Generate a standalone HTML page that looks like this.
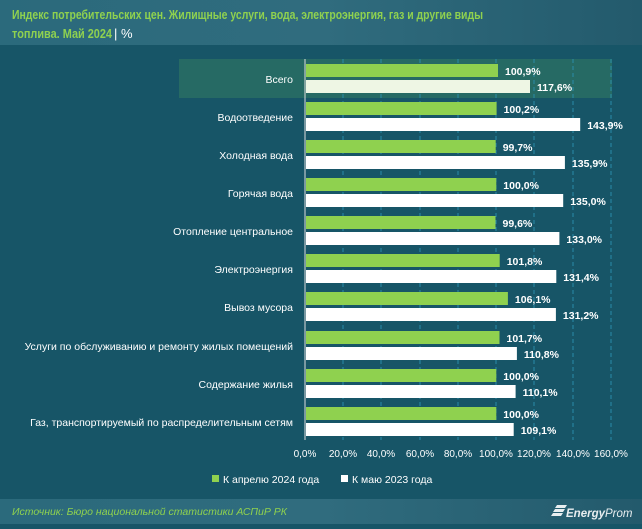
<!DOCTYPE html><html><head><meta charset="utf-8"><style>
body{margin:0;width:642px;height:524px;overflow:hidden;background:#175567;font-family:"Liberation Sans",sans-serif;}
</style></head><body>
<svg width="642" height="524" xmlns="http://www.w3.org/2000/svg" font-family="Liberation Sans, sans-serif">
<defs><linearGradient id="h" x1="0" x2="1"><stop offset="0" stop-color="#2b6a7c"/><stop offset=".5" stop-color="#306c7e"/><stop offset="1" stop-color="#235a6c"/></linearGradient></defs>
<rect width="642" height="524" fill="#175567"/>
<rect width="642" height="45" fill="url(#h)"/>
<text x="12" y="19" fill="#8fd14f" font-size="13" font-weight="bold" textLength="471" lengthAdjust="spacingAndGlyphs">Индекс потребительских цен. Жилищные услуги, вода, электроэнергия, газ и другие виды</text>
<text x="12" y="38" fill="#8fd14f" font-size="13" font-weight="bold" textLength="100" lengthAdjust="spacingAndGlyphs">топлива. Май 2024</text>
<text x="114" y="38" fill="#fff" font-size="13">| %</text>
<rect x="179" y="59" width="433" height="39" fill="#266a64"/>
<g stroke="#2a8ca8" stroke-dasharray="4,3" stroke-width="1">
<line x1="343" y1="59" x2="343" y2="440"/><line x1="381" y1="59" x2="381" y2="440"/><line x1="420" y1="59" x2="420" y2="440"/><line x1="458" y1="59" x2="458" y2="440"/><line x1="496" y1="59" x2="496" y2="440"/><line x1="534" y1="59" x2="534" y2="440"/><line x1="573" y1="59" x2="573" y2="440"/><line x1="611" y1="59" x2="611" y2="440"/>
</g>
<g fill="#8fd14f">
<rect x="306" y="64" width="192" height="13"/>
<rect x="306" y="102" width="190.6" height="13"/>
<rect x="306" y="140" width="189.7" height="13"/>
<rect x="306" y="178" width="190.3" height="13"/>
<rect x="306" y="216" width="189.5" height="13"/>
<rect x="306" y="254" width="193.7" height="13"/>
<rect x="306" y="292" width="201.9" height="13"/>
<rect x="306" y="331" width="193.5" height="13"/>
<rect x="306" y="369" width="190.3" height="13"/>
<rect x="306" y="407" width="190.3" height="13"/>
</g>
<g fill="#fff">
<rect x="306" y="80" width="224" height="13" fill="#eef6e4"/>
<rect x="306" y="118" width="274.2" height="13"/>
<rect x="306" y="156" width="258.9" height="13"/>
<rect x="306" y="194" width="257.2" height="13"/>
<rect x="306" y="232" width="253.4" height="13"/>
<rect x="306" y="270" width="250.3" height="13"/>
<rect x="306" y="308" width="249.9" height="13"/>
<rect x="306" y="347" width="210.9" height="13"/>
<rect x="306" y="385" width="209.6" height="13"/>
<rect x="306" y="423" width="207.7" height="13"/>
</g>
<line x1="305" y1="59" x2="305" y2="440" stroke="#ddd" stroke-width="1"/>
<g font-size="10.5" fill="#fff" text-anchor="end">
<text x="293" y="83">Всего</text>
<text x="293" y="121">Водоотведение</text>
<text x="293" y="159">Холодная вода</text>
<text x="293" y="197">Горячая вода</text>
<text x="293" y="235">Отопление центральное</text>
<text x="293" y="273">Электроэнергия</text>
<text x="293" y="311">Вывоз мусора</text>
<text x="293" y="350">Услуги по обслуживанию и ремонту жилых помещений</text>
<text x="293" y="388">Содержание жилья</text>
<text x="293" y="426">Газ, транспортируемый по распределительным сетям</text>
</g>
<g font-size="10.5" font-weight="bold" fill="#fff">
<text x="505" y="75">100,9%</text><text x="537" y="91">117,6%</text>
<text x="503.6" y="113">100,2%</text><text x="587.2" y="129">143,9%</text>
<text x="502.7" y="151">99,7%</text><text x="571.9" y="167">135,9%</text>
<text x="503.3" y="189">100,0%</text><text x="570.2" y="205">135,0%</text>
<text x="502.5" y="227">99,6%</text><text x="566.4" y="243">133,0%</text>
<text x="506.7" y="265">101,8%</text><text x="563.3" y="281">131,4%</text>
<text x="514.9" y="303">106,1%</text><text x="562.9" y="319">131,2%</text>
<text x="506.5" y="342">101,7%</text><text x="523.9" y="358">110,8%</text>
<text x="503.3" y="380">100,0%</text><text x="522.6" y="396">110,1%</text>
<text x="503.3" y="418">100,0%</text><text x="520.7" y="434">109,1%</text>
</g>
<g font-size="10" fill="#fff" text-anchor="middle">
<text x="305" y="457">0,0%</text><text x="343" y="457">20,0%</text><text x="381" y="457">40,0%</text><text x="420" y="457">60,0%</text><text x="458" y="457">80,0%</text><text x="496" y="457">100,0%</text><text x="534" y="457">120,0%</text><text x="573" y="457">140,0%</text><text x="611" y="457">160,0%</text>
</g>
<rect x="212" y="475" width="7" height="7" fill="#8fd14f"/><text x="223" y="483" fill="#fff" font-size="10.5">К апрелю 2024 года</text>
<rect x="341" y="475" width="7" height="7" fill="#fff"/><text x="352" y="483" fill="#fff" font-size="10.5">К маю 2023 года</text>
<rect y="499" width="642" height="25" fill="url(#h)"/>
<text x="12" y="515" fill="#8fd14f" font-size="10.5" font-style="italic">Источник: Бюро национальной статистики АСПиР РК</text>
<g fill="#e8eef0"><path d="M557 505h10l-2 3h-10zM555 509h10l-2 3h-10zM553 513h10l-2 3h-10z"/></g>
<text x="566" y="517" fill="#e8eef0" font-size="11.5" font-style="italic" font-weight="bold">Energy<tspan font-weight="normal">Prom</tspan></text>
</svg></body></html>
